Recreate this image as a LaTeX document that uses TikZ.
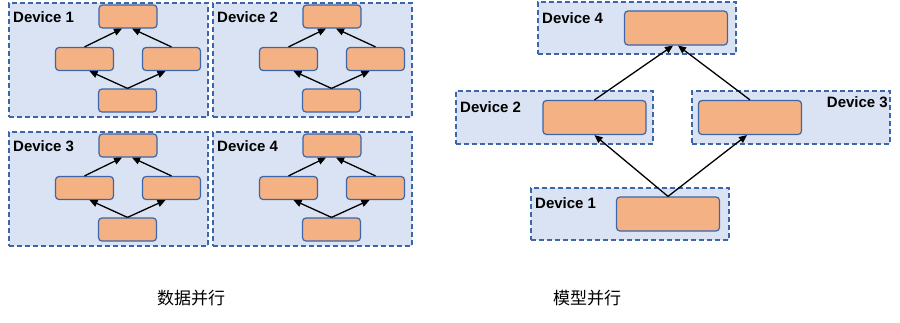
\documentclass[tikz,border=0pt]{standalone}
\usepackage{fontspec}
\setmainfont{Liberation Sans}
\newfontfamily\cjk{Noto Sans CJK SC}
\usetikzlibrary{arrows.meta,positioning}
\definecolor{ppFrame}{HTML}{3D65AA}
\definecolor{ppBack}{HTML}{DAE3F3}
\definecolor{ppOrange}{HTML}{F4B183}
\definecolor{ppEdge}{HTML}{3D65AA}
\tikzset{
  pp device/.style={
    draw=ppFrame, fill=ppBack,
    line width=1.3pt,
    dash pattern=on 5pt off 3pt,
    inner sep=0pt
  },
  pp layer/.style={
    draw=ppEdge, fill=ppOrange,
    line width=1.2pt,
    rounded corners=3.5pt,
    inner sep=0pt
  },
  pp small layer/.style={pp layer, minimum width=58pt, minimum height=23pt},
  pp big layer/.style={pp layer, minimum width=103pt, minimum height=34pt},
  pp flow/.style={
    draw=black,
    line width=1.3pt,
    -{Triangle[length=8pt,width=7pt]}
  },
  pp label/.style={font=\bfseries\fontsize{15}{18}\selectfont, inner sep=0pt},
  pp caption/.style={font=\cjk\fontsize{17}{20}\selectfont, inner sep=0pt}
}

\begin{document}
\begin{tikzpicture}[x=1pt,y=-1pt]
  \path[use as bounding box] (0,0) rectangle (900,322);

  % data parallel: four copies of the same model
  \foreach \i/\dx/\dy in {1/0/0,2/204/0,3/0/129,4/204/129} {
    \begin{scope}[shift={(\dx,\dy)}]
      \node[pp device, minimum width=199pt, minimum height=114pt] (dp\i) at (108.5,60) {};
      \node[pp label, anchor=west] (dp\i-name) at (13,17) {Device \i};
      \node[pp small layer] (dp\i-top) at (128,16.5) {};
      \node[pp small layer] (dp\i-left) at (84.5,59) {};
      \node[pp small layer] (dp\i-right) at (171.5,59) {};
      \node[pp small layer] (dp\i-bot) at (127.5,100.5) {};
      \draw[pp flow] (dp\i-bot.north) -- ([xshift=5pt]dp\i-left.south);
      \draw[pp flow] (dp\i-bot.north) -- ([xshift=-6pt]dp\i-right.south);
      \draw[pp flow] (dp\i-left.north) -- ([xshift=-6pt]dp\i-top.south);
      \draw[pp flow] (dp\i-right.north) -- ([xshift=4pt]dp\i-top.south);
    \end{scope}
  }
  \node[pp caption] (dp-caption) at (191,298) {数据并行};

  % model parallel: one layer per device
  \node[pp device, minimum width=198pt, minimum height=52pt] (mp4) at (637,28) {};
  \node[pp device, minimum width=197pt, minimum height=53pt] (mp2) at (554.5,117.5) {};
  \node[pp device, minimum width=198pt, minimum height=53pt] (mp3) at (791,117.5) {};
  \node[pp device, minimum width=198pt, minimum height=52pt] (mp1) at (630,214) {};

  \node[pp label, anchor=west] (mp4-name) at (542,18) {Device 4};
  \node[pp label, anchor=west] (mp2-name) at (460,107) {Device 2};
  \node[pp label, anchor=east] (mp3-name) at (888,102) {Device 3};
  \node[pp label, anchor=west] (mp1-name) at (535,203) {Device 1};

  \node[pp big layer] (mp4-layer) at (676,28) {};
  \node[pp big layer] (mp2-layer) at (594.5,117.5) {};
  \node[pp big layer] (mp3-layer) at (750,117.5) {};
  \node[pp big layer] (mp1-layer) at (668,214) {};

  \draw[pp flow] (mp1-layer.north) -- (mp2-layer.south);
  \draw[pp flow] (mp1-layer.north) -- ([xshift=-3pt]mp3-layer.south);
  \draw[pp flow] (mp2-layer.north) -- ([xshift=-3pt]mp4-layer.south);
  \draw[pp flow] (mp3-layer.north) -- ([xshift=2pt]mp4-layer.south);
  \node[pp caption] (mp-caption) at (587,298) {模型并行};
\end{tikzpicture}
\end{document}
